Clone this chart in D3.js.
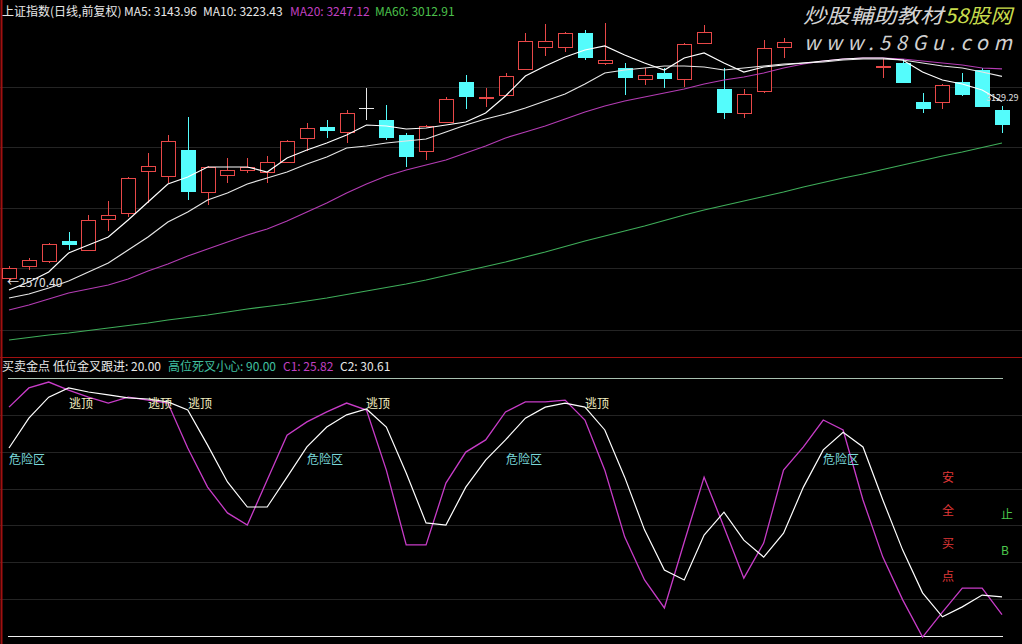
<!DOCTYPE html>
<html><head><meta charset="utf-8">
<script src="https://cdn.jsdelivr.net/npm/d3@7/dist/d3.min.js"></script>
<style>
html,body{margin:0;padding:0;background:#000;overflow:hidden}
svg{display:block}
text{font-family:"Noto Sans CJK SC","DejaVu Sans",sans-serif}
</style></head><body>
<svg id="c" width="1022" height="644"></svg>
<script>
// ---------------- data ----------------
const days = d3.range(1, 52); // 51 trading days shown
const openP  = [2586.2,2624.2,2640.0,2703.2,2674.7,2772.7,2791.7,2924.5,2908.7,2990.8,2858.1,2911.8,2927.6,2921.3,2952.9,3028.8,3063.6,3047.7,3123.6,3085.7,3038.3,2987.7,3079.4,3205.8,3155.2,3164.7,3246.9,3316.4,3316.4,3360.7,3265.9,3250.1,3215.3,3234.2,3215.3,3329.1,3183.7,3107.8,3177.3,3316.4,3332.2,3306.9,3325.9,3338.6,3253.2,3265.9,3142.6,3142.6,3205.8,3243.7,3117.3];
const highP  = [2624.2,2649.5,2696.9,2731.6,2785.4,2829.6,2905.5,2981.4,3038.3,3095.2,2940.3,2965.6,2965.6,2971.9,3022.5,3076.2,3085.7,3117.3,3186.8,3133.1,3044.6,3069.9,3158.4,3227.9,3186.8,3234.2,3360.7,3389.1,3363.8,3370.2,3392.3,3265.9,3250.1,3250.1,3329.1,3386.0,3250.1,3183.7,3338.6,3344.9,3351.2,3338.6,3351.2,3360.7,3281.7,3278.5,3171.0,3199.5,3234.2,3250.1,3129.29];
const lowP   = [2570.40,2611.5,2633.7,2674.7,2671.6,2734.8,2779.1,2823.3,2886.5,2832.8,2817.0,2886.5,2918.1,2886.5,2949.8,2987.7,3028.8,3013.0,3085.7,3022.5,2937.1,2959.2,3076.2,3120.5,3126.8,3161.5,3243.7,3288.0,3300.6,3275.3,3259.5,3164.7,3196.3,3186.8,3190.0,3325.9,3088.8,3092.0,3171.0,3281.7,3300.6,3294.3,3300.6,3294.3,3218.4,3202.6,3107.8,3120.5,3161.5,3126.8,3044.6];
const closeP = [2617.9,2643.1,2693.7,2690.6,2769.6,2785.4,2902.3,2940.3,3019.3,2858.1,2937.1,2927.6,2937.1,2952.9,3019.3,3060.4,3050.9,3107.8,3123.6,3028.8,2968.7,3066.7,3152.1,3158.4,3158.4,3224.8,3335.4,3335.4,3360.7,3281.7,3275.3,3218.4,3227.9,3215.3,3325.9,3363.8,3107.8,3167.9,3313.3,3332.2,3313.3,3325.9,3338.6,3306.9,3256.4,3202.6,3120.5,3196.3,3164.7,3126.8,3069.9];
const ma5  = [2548.3,2573.6,2605.2,2665.3,2690.6,2715.8,2769.6,2826.5,2883.4,2905.5,2937.1,2937.1,2937.1,2921.3,2965.6,2990.8,3013.0,3038.3,3069.9,3066.7,3057.2,3060.4,3069.9,3079.4,3107.8,3161.5,3224.8,3256.4,3284.8,3306.9,3319.6,3291.1,3265.9,3243.7,3281.7,3297.5,3265.9,3237.4,3253.2,3259.5,3265.9,3272.2,3278.5,3281.7,3281.7,3275.3,3237.4,3212.1,3199.5,3180.5,3143.96];
const ma10 = [2523.0,2535.7,2554.6,2576.8,2605.2,2633.7,2674.7,2715.8,2763.3,2794.9,2832.8,2854.9,2883.4,2902.3,2921.3,2946.6,2968.7,2997.2,3003.5,3013.0,3019.3,3025.6,3047.7,3069.9,3088.8,3104.6,3123.6,3145.7,3167.9,3199.5,3234.2,3243.7,3250.1,3256.4,3256.4,3253.2,3243.7,3250.1,3256.4,3262.7,3265.9,3269.0,3275.3,3278.5,3278.5,3275.3,3265.9,3256.4,3250.1,3237.4,3223.43];
const ma20 = [2485.1,2500.9,2519.9,2538.8,2551.5,2564.1,2583.1,2608.4,2630.5,2655.8,2677.9,2700.0,2722.2,2741.1,2766.4,2794.9,2823.3,2854.9,2883.4,2908.7,2927.6,2943.4,2959.2,2981.4,3003.5,3028.8,3047.7,3066.7,3088.8,3111.0,3129.9,3145.7,3158.4,3171.0,3183.7,3199.5,3212.1,3221.6,3234.2,3250.1,3262.7,3272.2,3278.5,3281.7,3281.7,3278.5,3272.2,3265.9,3259.5,3250.1,3247.12];
const ma60 = [2390.3,2398.2,2406.1,2412.4,2420.3,2428.2,2436.1,2444.0,2453.5,2461.4,2469.3,2478.8,2488.3,2496.2,2504.1,2513.5,2523.0,2534.1,2545.1,2556.2,2567.3,2579.9,2594.1,2608.4,2622.6,2636.8,2652.6,2668.4,2685.8,2703.2,2719.0,2734.8,2750.6,2768.0,2785.4,2801.2,2815.4,2829.6,2843.9,2858.1,2873.9,2888.1,2902.3,2915.0,2929.2,2943.4,2957.7,2971.9,2984.5,2998.8,3012.91];
// 买卖金点 indicator
const c1 = [82.1,87.3,88.9,86.7,84.8,83.2,84.8,84.0,83.2,71.0,60.4,53.4,50.1,62.3,74.5,78.1,80.8,83.2,81.3,65.0,44.7,44.7,61.5,69.9,73.2,80.8,83.5,83.5,84.0,78.6,65.0,46.9,35.2,27.6,45.5,63.1,49.6,35.7,45.2,65.0,71.3,78.6,75.9,56.9,41.4,29.8,19.7,26.5,33.0,33.0,25.82];
const c2 = [71.0,79.1,84.8,87.3,86.2,85.4,84.6,84.3,83.5,81.3,71.8,61.8,55.0,55.0,63.1,71.3,76.7,80.0,81.6,76.7,64.2,50.7,50.1,60.4,67.7,73.2,79.1,82.1,83.2,82.1,75.9,63.1,48.8,37.9,35.2,47.4,53.6,46.0,41.4,47.9,60.4,70.5,75.3,71.3,56.9,43.3,31.7,25.2,27.9,31.1,30.61];
const lowLine = 20.00, highLine = 90.00;
const escapeIdx = [3, 7, 9, 18, 29];        // 逃顶
const escapeLevel = 83;
const dangerIdx = [0, 15, 25, 41];          // 危险区
const dangerLevel = 67.7;
const safeChars = ["安", "全", "买", "点"];
const safeLevels = [63, 54, 45, 36];
const safeIdx = 47;
const stopChars = ["止", "B"];
const stopLevels = [52.8, 43.1];
const stopIdx = 50;
const gridLevels2 = [30, 40, 50, 60, 70, 80];
const markLow = 2570.40, markHigh = 3129.29;

// ---------------- drawing ----------------
const W = 1022, H = 644;
const svg = d3.select("#c");
svg.append("rect").attr("width", W).attr("height", H).attr("fill", "#000");

const x = d3.scalePoint().domain(days).range([9, 1002]);
const y = d3.scaleLinear().domain([2336.5, 3465]).range([357, 0]);
const y2 = d3.scaleLinear().domain([20, 90]).range([636, 378]);
const X = i => Math.round(x(days[i]));

const RED = "#e84848", CYAN = "#54fcfc";

// grid (upper)
const g0 = svg.append("g");
[87, 147, 208, 268, 330].forEach(v => {
  g0.append("line").attr("x1", 0).attr("x2", W).attr("y1", v + 0.5).attr("y2", v + 0.5)
    .attr("stroke", "#242424").attr("stroke-width", 1);
});
gridLevels2.forEach(v => {
  g0.append("line").attr("x1", 0).attr("x2", W)
    .attr("y1", Math.round(y2(v)) + 0.5).attr("y2", Math.round(y2(v)) + 0.5)
    .attr("stroke", "#242424").attr("stroke-width", 1);
});

// separators
svg.append("line").attr("x1", 0).attr("x2", W).attr("y1", 357.5).attr("y2", 357.5)
  .attr("stroke", "#a01010").attr("stroke-width", 1);
svg.append("line").attr("x1", 1.5).attr("x2", 1.5).attr("y1", 0).attr("y2", H)
  .attr("stroke", "#a01010").attr("stroke-width", 2);

// candles
const cg = svg.append("g");
days.forEach((d, i) => {
  const o = openP[i], h = highP[i], l = lowP[i], c = closeP[i];
  const cx = X(i);
  const top = Math.round(y(Math.max(o, c))), bot = Math.round(y(Math.min(o, c)));
  const yh = Math.round(y(h)), yl = Math.round(y(l));
  if (c > o) {
    cg.append("line").attr("x1", cx + 0.5).attr("x2", cx + 0.5).attr("y1", yh).attr("y2", top)
      .attr("stroke", RED);
    cg.append("line").attr("x1", cx + 0.5).attr("x2", cx + 0.5).attr("y1", bot).attr("y2", yl)
      .attr("stroke", RED);
    cg.append("rect").attr("x", cx - 6.5).attr("y", top + 0.5).attr("width", 14)
      .attr("height", Math.max(bot - top, 1)).attr("fill", "#000").attr("stroke", RED);
  } else if (c < o) {
    cg.append("line").attr("x1", cx + 0.5).attr("x2", cx + 0.5).attr("y1", yh).attr("y2", yl)
      .attr("stroke", CYAN);
    cg.append("rect").attr("x", cx - 7).attr("y", top).attr("width", 15)
      .attr("height", Math.max(bot - top, 1)).attr("fill", CYAN);
  } else {
    cg.append("line").attr("x1", cx + 0.5).attr("x2", cx + 0.5).attr("y1", yh).attr("y2", yl)
      .attr("stroke", "#e8e8e8");
    cg.append("line").attr("x1", cx - 7).attr("x2", cx + 8).attr("y1", top + 0.5).attr("y2", top + 0.5)
      .attr("stroke", "#e8e8e8");
  }
});

// moving averages
const line = d3.line().x((v, i) => x(days[i])).y(v => y(v));
[[ma60, "#3fae5a"], [ma20, "#b43cb4"], [ma10, "#e6e6e6"], [ma5, "#ffffff"]].forEach(([arr, col]) => {
  svg.append("path").attr("d", line(arr)).attr("fill", "none").attr("stroke", col).attr("stroke-width", 1.2);
});

// price marks
svg.append("text").attr("x", 7).attr("y", y(markLow)).attr("dy", "0.35em")
  .attr("font-size", 12).attr("fill", "#e0e0e0").text("←" + markLow.toFixed(2));
svg.append("text").attr("x", 986).attr("y", y(markHigh) - 8).attr("dy", "0.35em")
  .attr("font-size", 9).attr("fill", "#e0e0e0").text(markHigh.toFixed(2));

// watermark box
svg.append("rect").attr("x", 795).attr("y", 0).attr("width", W - 795).attr("height", 56).attr("fill", "#000");
svg.append("text").attr("x", 803).attr("y", 23).attr("font-size", 20).attr("font-style", "italic")
  .attr("fill", "#d4d4d4").attr("textLength", 140).attr("lengthAdjust", "spacingAndGlyphs").text("炒股輔助教材");
svg.append("text").attr("x", 944).attr("y", 23).attr("font-size", 20).attr("font-style", "italic")
  .attr("fill", "#c8dc4c").attr("textLength", 68).attr("lengthAdjust", "spacingAndGlyphs").text("58股网");
svg.append("text").attr("x", 804).attr("y", 50).attr("font-size", 20).attr("font-style", "italic")
  .attr("font-family", "DejaVu Sans").attr("fill", "#d0d0d0")
  .attr("textLength", 208).attr("lengthAdjust", "spacing").text("www.58Gu.com");

// upper header
const hdr = [
  ["上证指数(日线,前复权)", 2, "#e8e8e8"],
  ["MA5: " + ma5[50].toFixed(2), 124, "#e8e8e8"],
  ["MA10: " + ma10[50].toFixed(2), 203, "#e8e8e8"],
  ["MA20: " + ma20[50].toFixed(2), 290, "#c040c0"],
  ["MA60: " + ma60[50].toFixed(2), 375, "#4cc04c"]
];
hdr.forEach(([t, xx, col]) => svg.append("text").attr("x", xx).attr("y", 16).attr("font-size", 12)
  .attr("fill", col).text(t));

// ---------------- lower panel ----------------
svg.append("line").attr("x1", 8).attr("x2", 1003).attr("y1", Math.round(y2(highLine)) + 0.5)
  .attr("y2", Math.round(y2(highLine)) + 0.5).attr("stroke", "#a8c0b0");
svg.append("line").attr("x1", 8).attr("x2", 1003).attr("y1", Math.round(y2(lowLine)) + 0.5)
  .attr("y2", Math.round(y2(lowLine)) + 0.5).attr("stroke", "#f0f0f0");

const line2 = d3.line().x((v, i) => x(days[i])).y(v => y2(v));
svg.append("path").attr("d", line2(c1)).attr("fill", "none").attr("stroke", "#c83cc8").attr("stroke-width", 1.3);
svg.append("path").attr("d", line2(c2)).attr("fill", "none").attr("stroke", "#ffffff").attr("stroke-width", 1.2);

escapeIdx.forEach(i => svg.append("text").attr("x", X(i)).attr("y", y2(escapeLevel)).attr("dy", "0.35em")
  .attr("font-size", 12).attr("fill", "#f4f0c0").text("逃顶"));
dangerIdx.forEach(i => svg.append("text").attr("x", X(i)).attr("y", y2(dangerLevel)).attr("dy", "0.35em")
  .attr("font-size", 12).attr("fill", "#7ad8d8").text("危险区"));
safeChars.forEach((ch, k) => svg.append("text").attr("x", X(safeIdx)).attr("y", y2(safeLevels[k])).attr("dy", "0.35em")
  .attr("font-size", 12).attr("fill", "#e03838").text(ch));
stopChars.forEach((ch, k) => svg.append("text").attr("x", X(stopIdx) - 1).attr("y", y2(stopLevels[k])).attr("dy", "0.35em")
  .attr("font-size", 12).attr("fill", "#4cc84c").text(ch));

// lower header
const hdr2 = [
  ["买卖金点", 2, "#e8e8e8"],
  ["低位金叉跟进: " + lowLine.toFixed(2), 53, "#e8e8e8"],
  ["高位死叉小心: " + highLine.toFixed(2), 168, "#40c0a0"],
  ["C1: " + c1[50].toFixed(2), 283, "#c040c0"],
  ["C2: " + c2[50].toFixed(2), 340, "#e8e8e8"]
];
hdr2.forEach(([t, xx, col]) => svg.append("text").attr("x", xx).attr("y", 371).attr("font-size", 12)
  .attr("fill", col).text(t));
</script>
</body></html>
